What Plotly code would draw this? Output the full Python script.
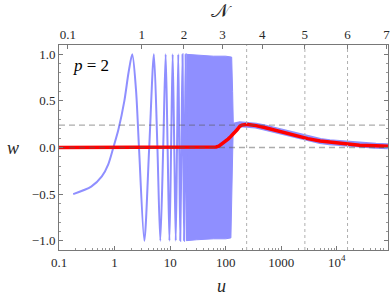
import plotly.graph_objects as go

# --- data ---
# early, resolvable oscillations of w(u) (blue)
osc_u = [0.18, 0.38, 0.59, 0.77, 0.95, 1.17, 1.5, 1.79, 2.08, 2.43, 2.75, 3.43,
         4.2, 5.1, 5.9, 6.65, 7.5, 8.3, 9.0, 9.7, 10.4, 11.1, 11.85, 12.6,
         13.3, 14.0, 14.6, 15.2, 15.95, 16.7, 17.25, 17.8, 18.4, 19.0, 19.5, 20.0]
osc_w = [-0.50, -0.42, -0.31, -0.18, 0.0, 0.19, 0.50, 0.81, 1.0, 0.62, 0.0, -1.0,
         0.0, 1.0, 0.0, -1.0, 0.0, 1.0, 0.0, -1.0, 0.0, 1.0, 0.0, -1.0,
         0.0, 1.0, 0.0, -1.0, 0.0, 1.0, 0.0, -1.0, 0.0, 1.0, 0.0, -1.0]

# dense (unresolved) oscillation band envelope
band_u = [19.5, 30, 60, 100, 128, 133, 137, 134, 128, 124, 100, 60, 30, 19.5]
band_w = [1.0, 0.99, 0.98, 0.98, 0.97, 0.6, 0.25, 0.0, -0.6, -0.97, -0.98, -0.98, -0.99, -1.0]

# late-time noisy blue following the average
tail_u = [128, 150, 180, 210, 251, 350, 500, 716, 1000, 1500, 2140, 3000, 5000,
          7400, 12000, 25700, 50000, 83000]
tail_w = [0.20, 0.24, 0.25, 0.25, 0.248, 0.235, 0.215, 0.19, 0.17, 0.14, 0.115,
          0.095, 0.07, 0.057, 0.043, 0.025, 0.018, 0.014]

# averaged w (red)
red_u = [0.1, 59, 67, 75, 82, 90, 100, 110, 122, 136, 148, 160, 170, 180, 195,
         210, 230, 251, 300, 350, 500, 716, 1000, 1500, 2140, 3000, 5000,
         7400, 12000, 25700, 50000, 83000]
red_w = [0, 0, 0.005, 0.015, 0.03, 0.05, 0.07, 0.09, 0.115, 0.14, 0.165, 0.19,
         0.21, 0.23, 0.24, 0.245, 0.247, 0.247, 0.242, 0.235, 0.215, 0.19, 0.17,
         0.14, 0.115, 0.095, 0.07, 0.057, 0.043, 0.025, 0.018, 0.014]

hlines_w = [0.24, 0.0]
vlines_u = [238, 2655, 15560]

bottom_tickvals = [0.1, 1, 10, 100, 1000, 1e4]
bottom_ticktext = ["0.1", "1", "10", "100", "1000", "10<sup>4</sup>"]
top_tickvals = [0.145, 3.07, 17.7, 87.9, 453, 2655, 15560, 78300]
top_ticktext = ["0.1", "1", "2", "3", "4", "5", "6", "7"]

XMIN, XMAX = 0.1, 10 ** 4.92
BLUE = "rgb(143,143,255)"
FONT = "Liberation Serif, DejaVu Serif, serif"
TXT = "rgb(40,40,40)"

fig = go.Figure()

# vertical dotted lines (on top axis so that it is drawn)
vx, vy = [], []
for u in vlines_u:
    vx += [u, u, None]
    vy += [-1.1, 1.1, None]
fig.add_trace(go.Scatter(x=vx, y=vy, mode="lines", xaxis="x2", yaxis="y",
                         line=dict(color="rgb(175,175,175)", width=1, dash="dot"),
                         hoverinfo="skip", showlegend=False))

fig.add_trace(go.Scatter(x=band_u, y=band_w, mode="lines", fill="toself",
                         fillcolor=BLUE, line=dict(color=BLUE, width=1),
                         showlegend=False))
fig.add_trace(go.Scatter(x=osc_u, y=osc_w, mode="lines",
                         line=dict(color=BLUE, width=2, shape="spline", smoothing=0.8),
                         showlegend=False))
fig.add_trace(go.Scatter(x=tail_u, y=tail_w, mode="lines",
                         line=dict(color=BLUE, width=6),
                         showlegend=False))
fig.add_trace(go.Scatter(x=red_u, y=red_w, mode="lines",
                         line=dict(color="rgb(255,0,0)", width=3.5),
                         showlegend=False))

hx, hy = [], []
for w in hlines_w:
    hx += [XMIN, XMAX, None]
    hy += [w, w, None]
fig.add_trace(go.Scatter(x=hx, y=hy, mode="lines",
                         line=dict(color="rgba(90,90,90,0.5)", width=1.3, dash="6px,4px"),
                         hoverinfo="skip", showlegend=False))

axis_common = dict(showline=True, linecolor="rgb(120,120,120)", linewidth=1,
                   showgrid=False, zeroline=False, ticks="inside",
                   tickcolor="rgb(120,120,120)", automargin=False,
                   ticklabeloverflow="allow",
                   tickfont=dict(family=FONT, size=13, color=TXT))


def label(text, x, y, size, color=TXT):
    return dict(text=text, x=x, y=y, xref="paper", yref="paper",
                xanchor="center", yanchor="middle", showarrow=False,
                font=dict(family=FONT, size=size, color=color))


fig.update_layout(
    template="none",
    font=dict(family=FONT, color=TXT),
    width=390, height=298,
    margin=dict(l=59, r=2, t=45, b=48),
    plot_bgcolor="white", paper_bgcolor="white",
    xaxis=dict(type="log", range=[-1, 4.92], tickvals=bottom_tickvals,
               ticktext=bottom_ticktext, ticklen=4, mirror=True,
               minor=dict(ticks="inside", ticklen=2, dtick="D1",
                          tickcolor="rgb(150,150,150)", showgrid=False),
               **axis_common),
    xaxis2=dict(type="log", range=[-1, 4.92], overlaying="x", side="top",
                tickvals=top_tickvals, ticktext=top_ticktext, ticklen=4,
                **axis_common),
    yaxis=dict(range=[-1.1, 1.1], tickvals=[-1, -0.5, 0, 0.5, 1],
               ticktext=["\u22121.0", "\u22120.5", "0.0", "0.5", "1.0"],
               ticklen=4, mirror="ticks",
               minor=dict(ticks="inside", ticklen=2, dtick=0.1,
                          tickcolor="rgb(150,150,150)", showgrid=False),
               **axis_common),
    annotations=[
        label("<i>u</i>", 0.495, -0.176, 18),
        label("<i>w</i>", -0.14, 0.498, 18),
        label("\U0001D4A9", 0.495, 1.166, 19),
        label("<i>p</i> = 2", 0.097, 0.902, 17, "black"),
    ],
)

fig.write_html("out.html",
               config={"displayModeBar": False},
               post_script="document.body.style.margin='0';"
                           "document.body.style.overflow='hidden';")
